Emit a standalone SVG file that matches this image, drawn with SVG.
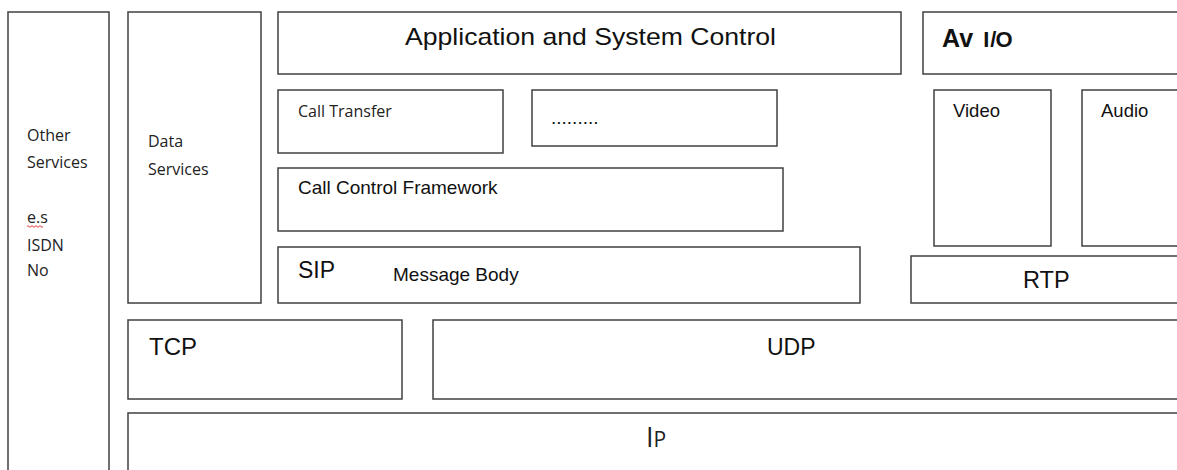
<svg xmlns="http://www.w3.org/2000/svg" width="1177" height="470" viewBox="0 0 1177 470">
<style>
.box{fill:#fff;stroke:#404040;stroke-width:1.5}
.a{font-family:"Liberation Sans",Arial,sans-serif;fill:#111}
.c{font-family:"Open Sans","Noto Sans",sans-serif;fill:#222}
</style>
<rect width="1177" height="470" fill="#fff"/>
<g id="other-services">
<rect class="box" x="8" y="12" width="101" height="470"/>
<text class="c" font-size="16" x="27" y="141">Other</text>
<text class="c" font-size="16" x="27" y="168">Services</text>
<text class="c" font-size="16" x="27" y="223">e.s</text>
<path d="M27 226.5 q1 -1.6 2 0 t2 0 t2 0 t2 0 t2 0 t2 0 t2 0 t2 0" fill="none" stroke="#d22" stroke-width="0.9"/>
<text class="c" font-size="16" x="27" y="251">ISDN</text>
<text class="c" font-size="16" x="27" y="276">No</text>
</g>
<g id="data-services">
<rect class="box" x="128" y="12" width="133" height="291"/>
<text class="c" font-size="16" x="148" y="147">Data</text>
<text class="c" font-size="16" x="148" y="175">Services</text>
</g>
<g id="app-control">
<rect class="box" x="278" y="12" width="623" height="62"/>
<text class="a" font-size="24" x="405" y="45" textLength="371" lengthAdjust="spacingAndGlyphs">Application  and System Control</text>
</g>
<g id="av-io">
<rect class="box" x="923" y="12" width="270" height="62"/>
<text class="a" font-weight="bold" x="942" y="47"><tspan font-size="25">Av</tspan><tspan font-size="22" dx="4"> I</tspan><tspan font-size="22" dx="1">/</tspan><tspan font-size="22" dx="-1">O</tspan></text>
</g>
<g id="call-transfer">
<rect class="box" x="278" y="90" width="225" height="63"/>
<text class="c" font-size="16" x="298" y="117">Call Transfer</text>
</g>
<g id="dots">
<rect class="box" x="532" y="90" width="245" height="56"/>
<text class="a" font-size="19" x="551" y="124">.........</text>
</g>
<g id="call-control">
<rect class="box" x="278" y="168" width="505" height="63"/>
<text class="a" font-size="19" x="298" y="194">Call Control Framework</text>
</g>
<g id="sip">
<rect class="box" x="278" y="247" width="582" height="56"/>
<text class="a" font-size="23" x="298" y="278">SIP</text>
<text class="a" font-size="19" x="393" y="281">Message Body</text>
</g>
<g id="video">
<rect class="box" x="934" y="90" width="117" height="156"/>
<text class="a" font-size="18.5" x="953" y="117">Video</text>
</g>
<g id="audio">
<rect class="box" x="1082" y="90" width="110" height="156"/>
<text class="a" font-size="18.5" x="1101" y="117">Audio</text>
</g>
<g id="rtp">
<rect class="box" x="911" y="256" width="280" height="47"/>
<text class="a" font-size="23.5" x="1023" y="288">RTP</text>
</g>
<g id="tcp">
<rect class="box" x="128" y="320" width="274" height="79"/>
<text class="a" font-size="24" x="149" y="355">TCP</text>
</g>
<g id="udp">
<rect class="box" x="433" y="320" width="760" height="79"/>
<text class="a" font-size="23" x="767" y="355">UDP</text>
</g>
<g id="ip">
<rect class="box" x="128" y="413" width="1065" height="80"/>
<text class="c" x="646" y="447"><tspan font-size="27">I</tspan><tspan font-size="21">P</tspan></text>
</g>
<g id="connectors"></g>
</svg>
